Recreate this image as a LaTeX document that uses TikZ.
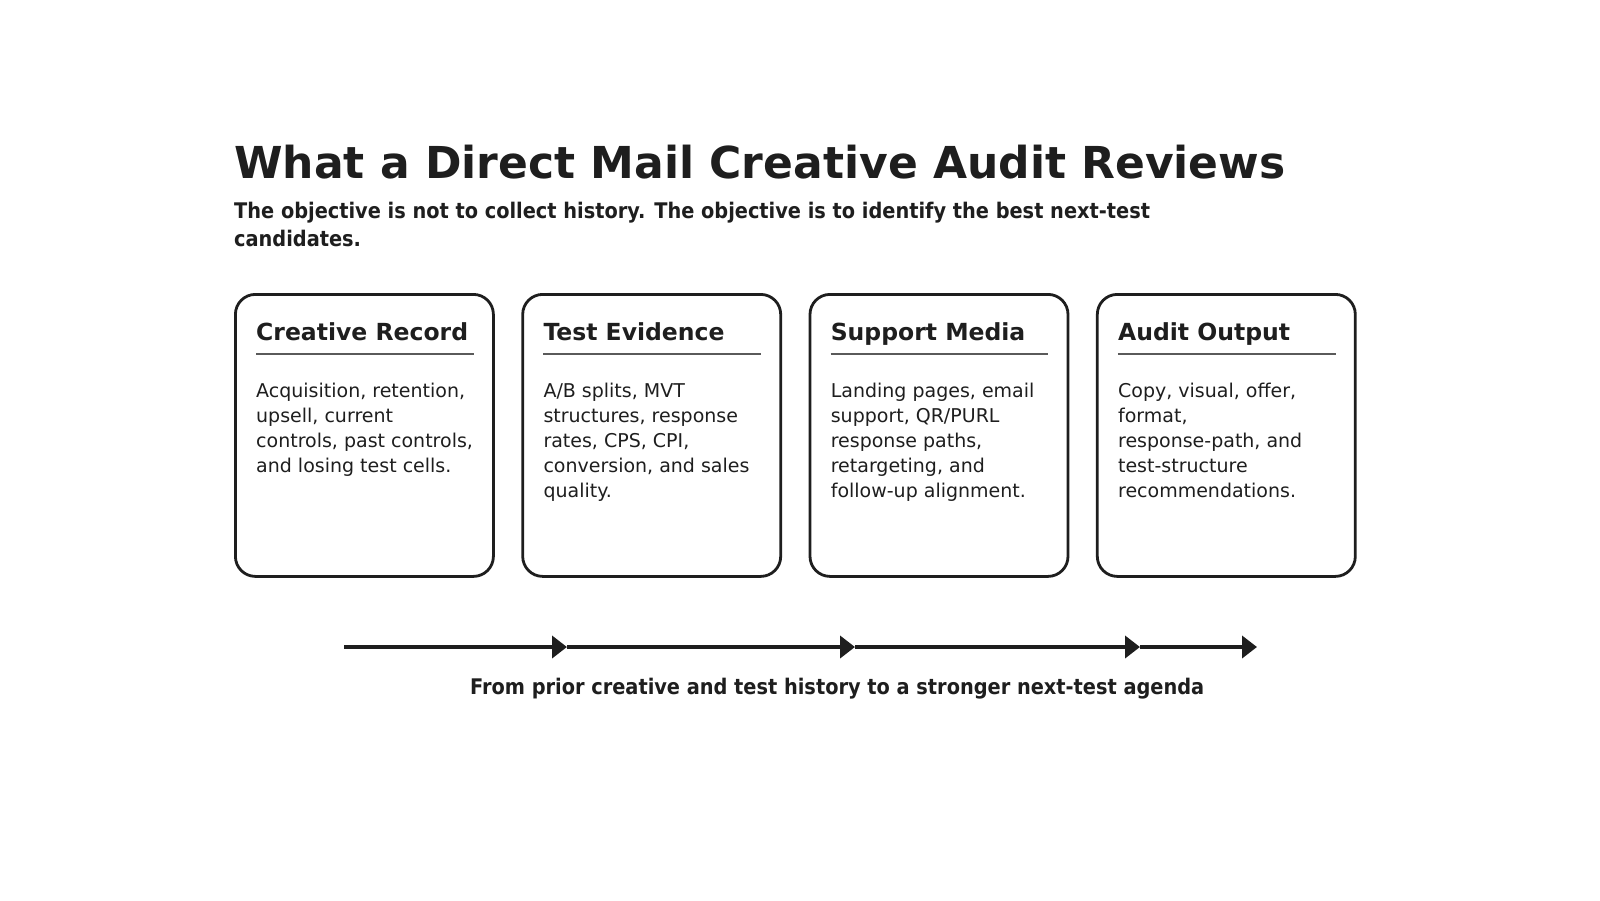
\documentclass[tikz,border=0pt]{standalone}
\usepackage{fontspec}
\setmainfont{DejaVu Sans}
\newfontfamily\condfont{DejaVu Sans Condensed}
\usetikzlibrary{positioning,arrows.meta}
\definecolor{ink}{HTML}{1E1E1E}
\definecolor{rulegray}{HTML}{5A5A5A}
\tikzset{
  card/.style={draw=ink, line width=2.8pt, rounded corners=20pt, minimum width=258pt,
    minimum height=282pt, anchor=north west, inner sep=0pt},
  cardhead/.style={anchor=base west, inner sep=0pt, text=ink,
    font=\fontsize{23.5}{28}\selectfont\bfseries},
  cardbody/.style={anchor=north west, inner sep=0pt, align=left, text=ink,
    font=\fontsize{19}{25}\selectfont},
  flow/.style={draw=ink, line width=4pt, -{Triangle[length=15pt,width=22pt]}},
}

\begin{document}
\begin{tikzpicture}[x=1pt, y=-1pt]
    \useasboundingbox (0,0) rectangle (1600,900);
    \node [anchor=base west, inner sep=0pt, text=ink, font=\fontsize{44}{50}\selectfont\bfseries]
        (title) at (234,178) {What a Direct Mail Creative Audit Reviews};
    \node [anchor=north west, inner sep=0pt, align=left, text=ink, font=\condfont\fontsize{21.5}{28}\selectfont\bfseries]
        (subtitle) at (234,202) {The objective is not to collect history. The objective is to identify the best next-test\\candidates.};
    \foreach \name/\head/\body [count=\i from 0] in {
        record/Creative Record/{Acquisition, retention,\\upsell, current\\controls, past controls,\\and losing test cells.},
        evidence/Test Evidence/{A/B splits, MVT\\structures, response\\rates, CPS, CPI,\\conversion, and sales\\quality.},
        media/Support Media/{Landing pages, email\\support, QR/PURL\\response paths,\\retargeting, and\\follow-up alignment.},
        output/Audit Output/{Copy, visual, offer,\\format,\\response-path, and\\test-structure\\recommendations.}} {
        \node [card] (\name) at (234+287.3*\i,293) {};
        \node [cardhead] (\name-head) at ([xshift=22pt,yshift=-47pt]\name.north west) {\head};
        \draw [rulegray, line width=1.3pt] ([xshift=22pt,yshift=-61pt]\name.north west) -- ([xshift=-21pt,yshift=-61pt]\name.north east);
        \node [cardbody] (\name-body) at ([xshift=22pt,yshift=-90pt]\name.north west) {\body};
    }
    \coordinate (start) at (344,647);
    \coordinate (tip1) at (567,647);
    \coordinate (tip2) at (855,647);
    \coordinate (tip3) at (1140,647);
    \coordinate (tip4) at (1257,647);
    \draw [flow] (start) -- (tip1);
    \draw [flow] (tip1) -- (tip2);
    \draw [flow] (tip2) -- (tip3);
    \draw [flow] (tip3) -- (tip4);
    \node [anchor=base west, inner sep=0pt, text=ink, font=\condfont\fontsize{21.5}{26}\selectfont\bfseries]
        (caption) at (470,694) {From prior creative and test history to a stronger next-test agenda};
\end{tikzpicture}
\end{document}
